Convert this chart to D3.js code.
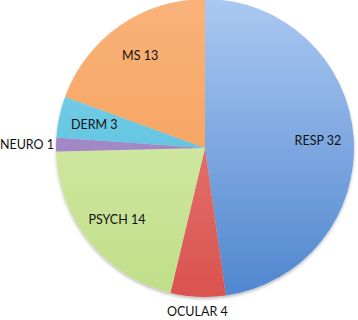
<!DOCTYPE html>
<html>
<head>
<meta charset="utf-8">
<script src="https://cdn.jsdelivr.net/npm/d3@7"></script>
<style>
  body { margin: 0; background: #fff; }
  text { font-family: Lato, "Open Sans", sans-serif; font-size: 12.5px; fill: #111; }
</style>
</head>
<body>
<div id="pie_chart"></div>
<script>
// data, clockwise from 12 o'clock
var categories = ["RESP", "OCULAR", "PSYCH", "NEURO", "DERM", "MS"];
var counts = [32, 4, 14, 1, 3, 13];
var colorsTop = ["#abc8f2", "#eb8a86", "#dcefb6", "#b7a2d6", "#8ad6ec", "#f9b27a"];
var colorsBottom = ["#4f86cf", "#d9534f", "#c0de88", "#8e6cb8", "#3fb5d8", "#f59a4d"];

var width = 358, height = 320;
var cx = 205, cy = 148, radius = 149;

var data = categories.map(function(c, i) { return {name: c, value: counts[i], i: i}; });

var svg = d3.select("#pie_chart")
  .append("svg")
    .attr("width", width)
    .attr("height", height);

var defs = svg.append("defs");

// soft shadow under the pie
var filt = defs.append("filter").attr("id", "shadow")
  .attr("x", "-10%").attr("y", "-10%").attr("width", "120%").attr("height", "120%");
filt.append("feDropShadow")
  .attr("dx", 0).attr("dy", 2).attr("stdDeviation", 1.5)
  .attr("flood-color", "#000").attr("flood-opacity", 0.25);

// one vertical gradient per slice, across the whole pie
data.forEach(function(d) {
  var g = defs.append("linearGradient")
    .attr("id", "grad" + d.i)
    .attr("gradientUnits", "userSpaceOnUse")
    .attr("x1", 0).attr("y1", -radius)
    .attr("x2", 0).attr("y2", radius);
  g.append("stop").attr("offset", "0%").attr("stop-color", colorsTop[d.i]);
  g.append("stop").attr("offset", "100%").attr("stop-color", colorsBottom[d.i]);
});

var g = svg.append("g")
  .attr("transform", "translate(" + cx + "," + cy + ")");

var pie = d3.pie()
  .sort(null)
  .value(function(d) { return d.value; });

var arcs = pie(data);

var arc = d3.arc()
  .innerRadius(0)
  .outerRadius(radius);

var labelArc = d3.arc()
  .innerRadius(radius * 0.76)
  .outerRadius(radius * 0.76);

g.append("g")
  .attr("filter", "url(#shadow)")
  .selectAll("path")
  .data(arcs)
  .enter()
  .append("path")
    .attr("d", arc)
    .attr("fill", function(d) { return "url(#grad" + d.data.i + ")"; });

// is point (x,y) inside slice d ?
function inside(d, x, y) {
  var r = Math.sqrt(x * x + y * y);
  var a = Math.atan2(x, -y);
  if (a < 0) a += 2 * Math.PI;
  return r < radius - 2 && a > d.startAngle && a < d.endAngle;
}

// labels: inside when they fit (best fit), otherwise just outside
g.selectAll("text.lbl")
  .data(arcs)
  .enter()
  .append("text")
    .attr("class", "lbl")
    .attr("dominant-baseline", "central")
    .attr("text-anchor", "middle")
    .text(function(d) { return d.data.name + " " + d.data.value; })
    .each(function(d) {
      var t = d3.select(this);
      var c = labelArc.centroid(d);
      var w = this.getComputedTextLength(), h = 12;
      var fits = [[-1, -1], [1, -1], [-1, 1], [1, 1]].every(function(s) {
        return inside(d, c[0] + s[0] * w / 2, c[1] + s[1] * h / 2);
      });
      if (fits) {
        t.attr("transform", "translate(" + c + ")");
        return;
      }
      var a = (d.startAngle + d.endAngle) / 2;
      var vertical = Math.abs(Math.sin(a)) < 0.5;
      var r = vertical ? radius + 15 : radius + 2;
      t.attr("text-anchor", vertical ? "middle" : (Math.sin(a) > 0 ? "start" : "end"))
        .attr("transform", "translate(" + (Math.sin(a) * r) + "," + (-Math.cos(a) * r) + ")");
    });
</script>
</body>
</html>
